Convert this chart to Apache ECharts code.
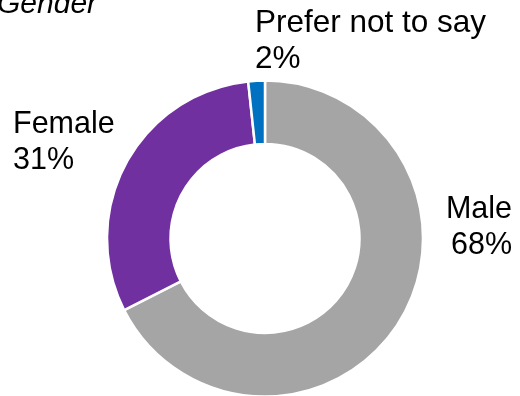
<!DOCTYPE html>
<html>
<head>
<meta charset="utf-8">
<script src="https://cdn.jsdelivr.net/npm/echarts@6/dist/echarts.min.js"></script>
<style>html,body{margin:0;padding:0;background:#fff;}#c{width:520px;height:396px;}</style>
</head>
<body>
<div id="c"></div>
<script>
var categories = ['Male', 'Female', 'Prefer not to say'];
var values = [67.5, 30.8, 1.7];
var percentLabels = ['68%', '31%', '2%'];
var colors = ['#A5A5A5', '#7030A0', '#0070C0'];
var labelSpots = [
  {x: 512, y: 192, align: 'right', size: 30.5},
  {x: 13, y: 107, align: 'left', size: 30.5},
  {x: 255, y: 5, align: 'left', size: 31.5}
];

var chart = echarts.init(document.getElementById('c'), null, {renderer: 'canvas'});
chart.setOption({
  animation: false,
  backgroundColor: '#ffffff',
  title: {
    text: 'Gender',
    left: -3,
    top: -13,
    padding: 0,
    textStyle: {fontFamily: 'Liberation Sans, Arial, sans-serif', fontStyle: 'italic', fontWeight: 'normal', fontSize: 30, color: '#000', lineHeight: 36}
  },
  series: [{
    type: 'pie',
    center: [265, 238.5],
    radius: [94.5, 158],
    startAngle: 90,
    clockwise: true,
    avoidLabelOverlap: false,
    itemStyle: {borderColor: '#ffffff', borderWidth: 2.5},
    label: {
      show: true,
      position: 'outside',
      fontFamily: 'Liberation Sans, Arial, sans-serif',
      fontSize: 30.5,
      lineHeight: 36,
      color: '#000',
      formatter: function (p) { return p.name + '\n' + percentLabels[p.dataIndex]; }
    },
    labelLine: {show: false},
    labelLayout: function (p) {
      var s = labelSpots[p.dataIndex];
      return {x: s.x, y: s.y, align: s.align, verticalAlign: 'top'};
    },
    emphasis: {disabled: true},
    data: categories.map(function (c, i) {
      return {name: c, value: values[i], itemStyle: {color: colors[i]}, label: {align: labelSpots[i].align, fontSize: labelSpots[i].size}};
    })
  }]
});
</script>
</body>
</html>
